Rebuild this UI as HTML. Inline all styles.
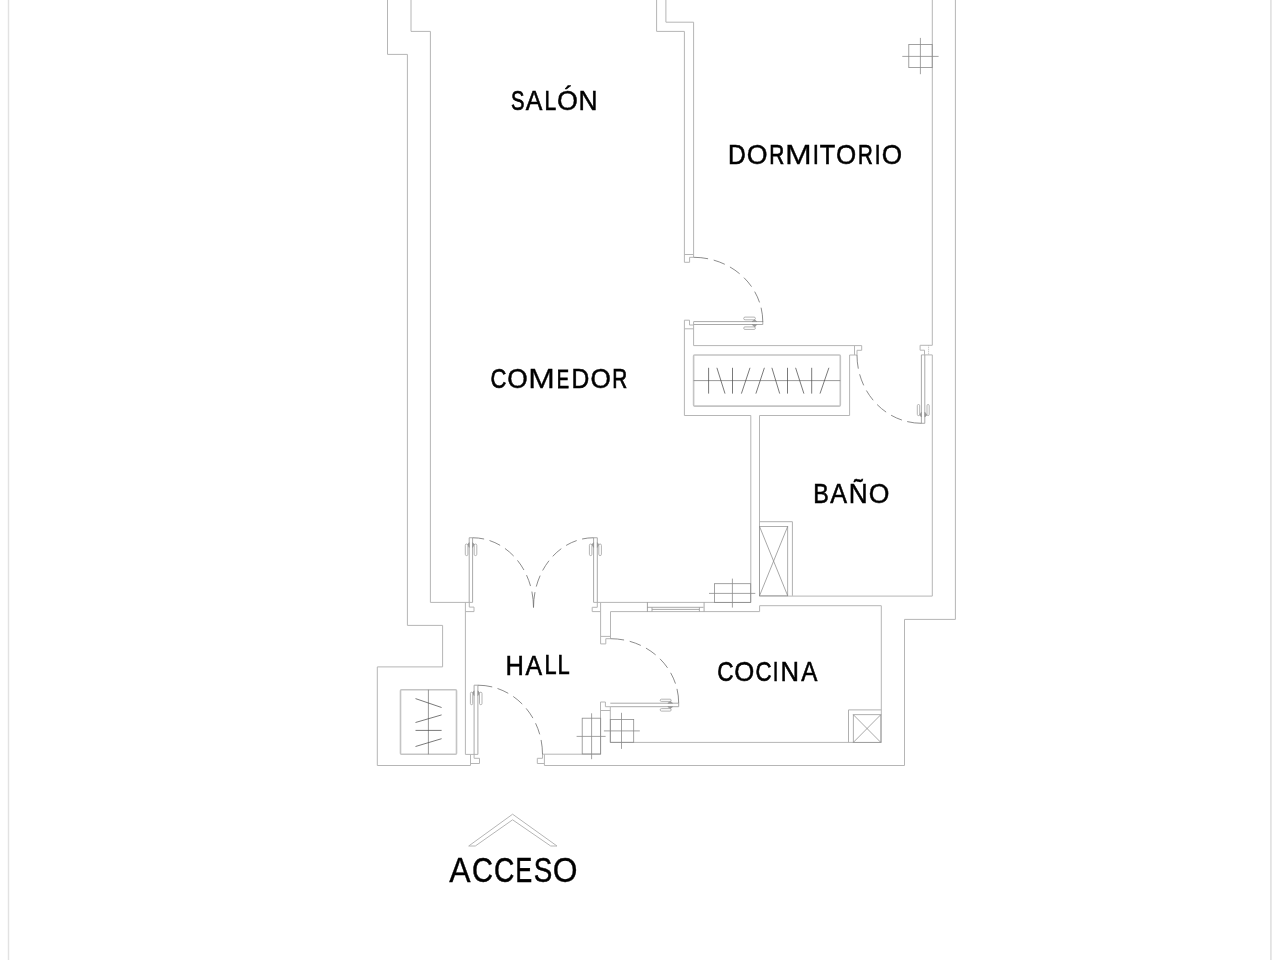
<!DOCTYPE html>
<html><head><meta charset="utf-8">
<style>
html,body{margin:0;padding:0;background:#fff;}
body{width:1280px;height:960px;overflow:hidden;font-family:"Liberation Sans",sans-serif;}
svg{display:block;position:absolute;left:0;top:0;will-change:transform;}
.w{fill:none;stroke:#b6b6b6;stroke-width:1;}
.m{fill:none;stroke:#a0a0a0;stroke-width:0.9;}
.k{fill:none;stroke:#8c8c8c;stroke-width:0.8;}
.x{fill:none;stroke:#848484;stroke-width:0.7;}
.bx{fill:none;stroke:#9c9c9c;stroke-width:0.8;}
.o{fill:none;stroke:#b0b0b0;stroke-width:1;}
.a{fill:none;stroke:#707070;stroke-width:0.8;stroke-dasharray:11.6 5.7 11.6 5.7 11.6 5.7 11.6 5.7 11.6 5.7 30;}
.h{fill:none;stroke:#a2a2a2;stroke-width:0.8;}
.hc{fill:#9a9a9a;stroke:#8a8a8a;stroke-width:0.5;}
.c{fill:none;stroke:#c4c4c4;stroke-width:1.6;}
.r{fill:none;stroke:#808080;stroke-width:0.8;}
.g{fill:none;stroke:#4e4e4e;stroke-width:0.75;}
.b{fill:none;stroke:#e2e2e2;stroke-width:1.5;}
text{font-family:"Liberation Sans",sans-serif;font-size:28px;fill:#000;stroke:#000;}
</style></head>
<body>
<svg width="1280" height="960" viewBox="0 0 1280 960">
<!-- page edges -->
<path class="b" d="M8.5,0V960" style="stroke-width:1.4"/><path class="b" d="M1270.9,0V960" style="stroke-width:1.7"/>

<!-- WALLS -->
<g class="w">
<!-- left outer -->
<path d="M387.5,0V54.4H407.4V625.4H442.6V666.9H377.3V765.5H470.5V754.4"/>
<!-- left inner -->
<path d="M411,0V31.4H430.4V602.4H472.6"/>
<!-- hall left -->
<path d="M469.3,602.4V607.1H474V611.6H465.4M465.4,602.4V754.4H477.9"/>
<!-- middle wall -->
<path d="M656.6,0V31.4H684.4V262.3H689.6V257.3H693.6"/>
<path d="M665.9,0V22.2H693.6V257.3M684.4,254.5H693.6"/>
<!-- below dorm door -->
<path d="M693.7,325H689.5V320.2H684.4V415.5H750.8M684.4,328.8H693.7"/>
<path d="M693.6,321.6V345.6H861.7V350.3H857V355H849.6V415.5H759.5M854.5,345.6V355"/>
<!-- comedor/bano wall -->
<path d="M750.8,415.5V602.4M759.5,415.5V596.1H932.3"/>
<!-- right wall inner -->
<path d="M932.3,0V345.3H920.1V350.2H924.5V354.9M921.4,354.9H932.3V596.1"/>
<!-- right outer + bottom -->
<path d="M955.4,0V619.4H904.5V765.5H544.4V754.4"/>
<!-- comedor bottom -->
<path d="M593.6,602.4H750.8"/>
<!-- cocina interior -->
<path d="M610.3,706.7V742.4H881.3V605.7H759.6V611.6H610.5V638.7"/>
<!-- hall right -->
<path d="M600.6,602.4V643.9H605.8V638.7H610.5M600.6,636.4H610.5"/>
<path d="M597.3,602.4V607.3H592.2V611.6H600.6"/>
<path d="M600.5,754.2V702H605.4V706.7H610.3M600.5,710.5H610.3"/>
<!-- bottom wall inner right of entry -->
<path d="M600.7,754.2H542.5V758.3H537.3V763.5H544.4"/>
<!-- entry jamb left -->
<path d="M474.1,754.4V758.3H479.5V763.5H470.4"/>
</g>

<path class="w" d="M928.6,345.3V354.9" style="stroke-dasharray:1 1"/>
<!-- closet outlines (thicker/lighter) -->
<g class="c">
<rect x="693.6" y="355" width="146.7" height="51.1" rx="1"/>
<rect x="400.5" y="689.7" width="56" height="64.6" rx="1"/>
</g>

<!-- window -->
<g class="m">
<path d="M647.4,607.3H703.5M652,609.4H699.4M652,607.3V611.6M699.4,607.3V611.6M704.1,602.4V611.6"/>
</g>
<path class="k" d="M647.4,602.4V611.6"/>

<!-- door leaves -->
<g class="m">
<path d="M469.2,602.4V537.75H472.6V602.4"/>
<path d="M593.6,602.4V537.75H597.3V602.4"/>
<path d="M693.7,321.6H762.8V324.5H693.7"/>
<path d="M921.4,354.9V423.3H924.8V354.9"/>
<path d="M610.3,703.2H678.7V706.7H610.3"/>
<path d="M474.1,754.4V685.2H477.9V754.4"/>
</g>

<!-- arcs -->
<g class="a">
<path d="M472.6,537.75A61,69.75 0 0 1 533.5,607.5"/>
<path d="M593.6,537.75A60,69.75 0 0 0 533.5,607.5"/>
<path d="M762.8,322A69.3,64.7 0 0 0 693.6,257.3" style="stroke-dasharray:14.5 5.5 11.8 5.8 11.8 5.8 11.8 5.8 11.8 5.8 30"/>
<path d="M921.5,423.3A64.5,68.3 0 0 1 857,355" style="stroke-dasharray:14.5 5.5 11.8 5.8 11.8 5.8 11.8 5.8 11.8 5.8 30"/>
<path d="M678.7,703.2A68.2,64.5 0 0 0 610.5,638.7" style="stroke-dasharray:14.5 5.5 11.8 5.8 11.8 5.8 11.8 5.8 11.8 5.8 30"/>
<path d="M477.9,685.2A64.6,69.2 0 0 1 542.5,754.4" style="stroke-dasharray:14.5 5.5 11.8 5.8 11.8 5.8 11.8 5.8 11.8 5.8 30"/>
</g>

<!-- handles -->
<g class="h">
<rect x="465.3" y="544" width="2.6" height="11.6" rx="1.30"/><path class="hc" d="M467.9,544.6L469.2,542.6V547.4Z"/>
<rect x="474.2" y="544" width="2.6" height="11.6" rx="1.30"/><path class="hc" d="M474.2,544.6L472.6,542.6V547.4Z"/>
<rect x="589.4" y="544" width="2.5" height="11.6" rx="1.25"/><path class="hc" d="M591.9,544.6L593.6,542.6V547.4Z"/>
<rect x="598.8" y="544" width="2.6" height="11.6" rx="1.30"/><path class="hc" d="M598.8,544.6L597.3,542.6V547.4Z"/>
<rect x="470.4" y="692.2" width="2.3" height="12.5" rx="1.15"/><path class="hc" d="M472.7,692.8L474.1,690.8V695.6Z"/>
<rect x="479.5" y="692.2" width="2.5" height="12.5" rx="1.25"/><path class="hc" d="M479.5,692.8L477.9,690.8V695.6Z"/>
<rect x="917.3" y="404.5" width="2.4" height="11.1" rx="1.20"/><path class="hc" d="M919.7,415.0L921.4,417.0V412.2Z"/>
<rect x="927" y="404.5" width="2.2" height="11.1" rx="1.10"/><path class="hc" d="M927,415.0L924.8,417.0V412.2Z"/>
<rect x="743.7" y="317.1" width="11.7" height="2.7" rx="1.35"/><path class="hc" d="M754.8,319.8L756.8,321.6H752.0Z"/>
<rect x="743.7" y="326.9" width="11.7" height="2.5" rx="1.25"/><path class="hc" d="M754.8,326.9L756.8,324.5H752.0Z"/>
<rect x="660.2" y="699.2" width="11.0" height="2.2" rx="1.10"/><path class="hc" d="M670.6,701.4L672.6,703.2H667.8Z"/>
<rect x="660.2" y="708.6" width="11.0" height="2.5" rx="1.25"/><path class="hc" d="M670.6,708.6L672.6,706.7H667.8Z"/>
</g>

<!-- dark details -->
<g class="k">
<!-- dorm closet rail + hangers -->
<path class="r" d="M693.6,380.6H840.3"/>
<path class="g" d="M708.6,367.8V393.6M716.9,367.8L725,393.6M732.5,367.8V393.6M750,367.8L741.4,393.6M764.4,367.8L755.9,393.6M771.9,367.8L779.7,393.6M787.5,367.8V393.6M795.6,367.8L803.9,393.6M811.7,367.8V393.6M828.9,367.8L820,393.6"/>
<!-- hall closet -->
<path class="r" d="M428.4,689.7V754.3"/>
<path class="g" d="M415.5,698.6L441.6,707.5M415.5,722.5L441.6,714.9M415.5,730.4H441.6M415.5,746.5L441.6,738.7"/>
<!-- pillars -->
<rect x="908.8" y="44.5" width="23.4" height="23.1"/>
<path d="M920.4,37.9V74.2M902.3,56.4H938.6"/>
<rect x="714.4" y="583.7" width="36.3" height="18.8"/>
<path d="M732.4,578.6V607.6M709,593.4H755.3"/>
<rect x="582.2" y="718.2" width="18.5" height="35.8"/>
<path d="M591.6,713.3V759.2M576.6,736.4H605.6"/>
<rect x="610.3" y="719.4" width="23.4" height="22.9"/>
<path d="M621.5,712.8V748.9M603.9,730.9H639.8"/>
<!-- bano box -->
<path class="o" d="M759.5,521.7H792.4V595.8"/>
<rect class="bx" x="759.5" y="526.4" width="28.2" height="69.4"/>
<path class="x" d="M759.5,526.4L787.7,595.8M787.7,526.4L759.5,595.8"/>
<!-- cocina box -->
<path class="o" d="M881.3,709.9H848.5V742.4"/>
<rect class="bx" x="853.3" y="714.7" width="27.5" height="27.7"/>
<path class="x" d="M853.3,714.7L880.8,742.4M880.8,714.7L853.3,742.4"/>
</g>

<!-- chevron -->
<path class="w" d="M468.7,846L512.6,814.2L557,846H550.7L512.6,819.8L475.3,846Z"/>

<!-- labels -->
<g class="t">
<text transform="translate(510.95,109.93) scale(0.7203,0.9893)" stroke-width="0.75">S</text>
<text transform="translate(525.70,110.02) scale(0.8890,0.9990)" stroke-width="0.56">A</text>
<text transform="translate(544.54,109.95) scale(0.7511,0.9917)" stroke-width="0.70">L</text>
<text transform="translate(557.05,110.06) scale(0.9598,1.0032)" stroke-width="0.47">Ó</text>
<text transform="translate(578.47,110.06) scale(0.9424,1.0025)" stroke-width="0.49">N</text>
<text transform="translate(728.02,164.02) scale(0.8807,0.9937)" stroke-width="0.56">D</text>
<text transform="translate(746.66,164.06) scale(0.9544,0.9978)" stroke-width="0.48">O</text>
<text transform="translate(769.26,163.94) scale(0.7436,0.9857)" stroke-width="0.72">R</text>
<text transform="translate(785.03,164.17) scale(1.1425,1.0088)" stroke-width="0.26">M</text>
<text transform="translate(812.73,164.05) scale(0.8022,0.9965)" stroke-width="0.51">I</text>
<text transform="translate(819.67,164.04) scale(0.9044,0.9952)" stroke-width="0.53">T</text>
<text transform="translate(836.01,164.05) scale(0.9274,0.9962)" stroke-width="0.51">O</text>
<text transform="translate(857.99,163.94) scale(0.7315,0.9850)" stroke-width="0.74">R</text>
<text transform="translate(874.38,164.05) scale(0.8022,0.9965)" stroke-width="0.51">I</text>
<text transform="translate(881.70,164.05) scale(0.9328,0.9965)" stroke-width="0.51">O</text>
<text transform="translate(490.44,388.18) scale(0.7878,0.9580)" stroke-width="0.67">C</text>
<text transform="translate(507.29,388.26) scale(0.9382,0.9665)" stroke-width="0.50">O</text>
<text transform="translate(528.14,388.37) scale(1.1368,0.9778)" stroke-width="0.27">M</text>
<text transform="translate(556.66,388.11) scale(0.6596,0.9510)" stroke-width="0.82">E</text>
<text transform="translate(571.52,388.23) scale(0.8807,0.9634)" stroke-width="0.56">D</text>
<text transform="translate(590.50,388.26) scale(0.9328,0.9662)" stroke-width="0.51">O</text>
<text transform="translate(612.32,388.15) scale(0.7406,0.9555)" stroke-width="0.73">R</text>
<text transform="translate(813.15,502.90) scale(0.8313,0.9860)" stroke-width="0.62">B</text>
<text transform="translate(830.19,502.93) scale(0.9001,0.9896)" stroke-width="0.54">A</text>
<text transform="translate(848.78,502.95) scale(0.9358,0.9919)" stroke-width="0.50">Ñ</text>
<text transform="translate(868.77,502.96) scale(0.9490,0.9924)" stroke-width="0.49">O</text>
<text transform="translate(505.45,674.54) scale(0.9093,1.0005)" stroke-width="0.53">H</text>
<text transform="translate(525.40,674.52) scale(0.8890,0.9990)" stroke-width="0.56">A</text>
<text transform="translate(544.38,674.47) scale(0.7758,0.9932)" stroke-width="0.67">L</text>
<text transform="translate(557.56,674.47) scale(0.7841,0.9937)" stroke-width="0.66">L</text>
<text transform="translate(717.31,681.09) scale(0.8079,0.9692)" stroke-width="0.65">C</text>
<text transform="translate(734.22,681.15) scale(0.9193,0.9755)" stroke-width="0.52">O</text>
<text transform="translate(755.38,681.08) scale(0.7964,0.9686)" stroke-width="0.66">C</text>
<text transform="translate(772.86,681.12) scale(0.7377,0.9729)" stroke-width="0.57">I</text>
<text transform="translate(780.43,681.15) scale(0.9159,0.9756)" stroke-width="0.52">N</text>
<text transform="translate(801.16,681.12) scale(0.8642,0.9724)" stroke-width="0.58">A</text>
<text transform="translate(449.29,882.43) scale(1.1417,1.2495)" stroke-width="0.26">A</text>
<text transform="translate(471.92,882.36) scale(1.0379,1.2420)" stroke-width="0.38">C</text>
<text transform="translate(493.88,882.34) scale(1.0084,1.2399)" stroke-width="0.42">C</text>
<text transform="translate(515.40,882.26) scale(0.8904,1.2317)" stroke-width="0.55">E</text>
<text transform="translate(533.85,882.33) scale(0.9908,1.2388)" stroke-width="0.43">S</text>
<text transform="translate(552.84,882.43) scale(1.1376,1.2491)" stroke-width="0.27">O</text>
</g>
</svg>
</body></html>
